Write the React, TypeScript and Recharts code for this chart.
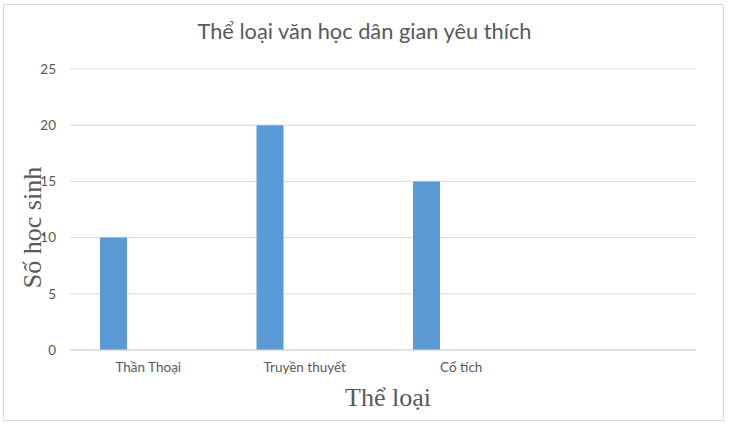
import { BarChart, Bar, XAxis, YAxis, CartesianGrid } from "recharts"

const CATEGORIES = ["Thần Thoại", "Truyền thuyết", "Cổ tích", ""]
const SO_HOC_SINH = [10, 20, 15, null]
const SERIES_2 = [null, null, null, null]
const Y_TICKS = [0, 5, 10, 15, 20, 25]

const TITLE = "Thể loại văn học dân gian yêu thích"
const Y_LABEL = "Số học sinh"
const X_LABEL = "Thể loại"

const data = CATEGORIES.map((name, i) => ({
  name,
  value: SO_HOC_SINH[i],
  value2: SERIES_2[i],
}))

const GRID = "#d9d9d9"
const TEXT = "#595959"
const BAR = "#5b9bd5"
const SANS = "Lato, 'Open Sans', sans-serif"
const SERIF = "'Liberation Serif', 'DejaVu Serif', serif"

export default function App() {
  return (
    <div style={{ position: "absolute", left: 0, top: 0, width: 729, height: 425, background: "#fff" }}>
      <div
        style={{
          position: "absolute",
          left: 3,
          top: 4,
          width: 719,
          height: 415,
          border: `1px solid ${GRID}`,
        }}
      />
      <div
        style={{
          position: "absolute",
          left: 0,
          top: 17,
          width: 729,
          textAlign: "center",
          fontFamily: SANS,
          fontSize: 21.8,
          color: TEXT,
          lineHeight: "28px",
        }}
      >
        {TITLE}
      </div>
      <div style={{ position: "absolute", left: 0, top: 0 }}>
        <BarChart
          width={729}
          height={425}
          data={data}
          margin={{ top: 69, right: 33, bottom: 45, left: 0 }}
          barGap={42}
        >
          <CartesianGrid vertical={false} stroke={GRID} />
          <XAxis
            dataKey="name"
            axisLine={{ stroke: GRID }}
            tickLine={false}
            tickMargin={6}
            height={30}
            interval={0}
            tick={{ fill: TEXT, fontSize: 13.5, fontFamily: SANS }}
            label={{
              value: X_LABEL,
              content: ({ viewBox }: any) => (
                <text
                  x={viewBox.x + viewBox.width / 2 + 5}
                  y={viewBox.y + 47}
                  textAnchor="middle"
                  dominantBaseline="central"
                  fontFamily={SERIF}
                  fontSize={26}
                  fill={TEXT}
                >
                  {X_LABEL}
                </text>
              ),
            }}
          />
          <YAxis
            width={70}
            domain={[0, 25]}
            ticks={Y_TICKS}
            axisLine={false}
            tickLine={false}
            tickMargin={8}
            tick={{ fill: TEXT, fontSize: 13.5, fontFamily: SANS }}
            label={{
              value: Y_LABEL,
              content: ({ viewBox }: any) => {
                const cx = viewBox.x + 32
                const cy = viewBox.y + viewBox.height / 2 + 18
                return (
                  <text
                    x={cx}
                    y={cy}
                    transform={`rotate(-90 ${cx} ${cy})`}
                    textAnchor="middle"
                    dominantBaseline="central"
                    fontFamily={SERIF}
                    fontSize={26}
                    fill={TEXT}
                  >
                    {Y_LABEL}
                  </text>
                )
              },
            }}
          />
          <Bar dataKey="value" fill={BAR} barSize={27} isAnimationActive={false} />
          <Bar dataKey="value2" fill="#ed7d31" barSize={27} isAnimationActive={false} />
        </BarChart>
      </div>
    </div>
  )
}
